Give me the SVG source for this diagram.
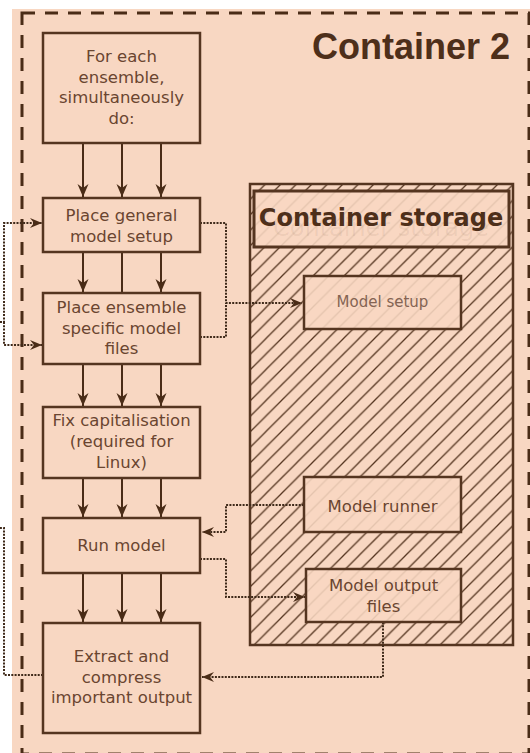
<svg xmlns="http://www.w3.org/2000/svg" width="530" height="753" viewBox="0 0 530 753">
<defs>
<style>
.box{fill:#f8d7c2;stroke:#553520;stroke-width:2.5}
.sbox{fill:#f8d7c2;fill-opacity:0.88;stroke:#553520;stroke-width:2.5}
.t{font-family:"DejaVu Sans",Verdana,sans-serif;font-size:16.5px;fill:#6a4530;text-anchor:middle}
.ts{font-family:"DejaVu Sans",Verdana,sans-serif;font-size:15px;fill:#846453;text-anchor:middle}
.flow{stroke:#4a2c17;stroke-width:2;fill:none}
.dot{stroke:#3f2a1a;stroke-width:2;fill:none;stroke-dasharray:2 1.3}
</style>
<marker id="ah" markerUnits="userSpaceOnUse" markerWidth="14" markerHeight="12" refX="13" refY="5.5" orient="auto">
<path d="M0,0 L13,5.5 L0,11 L4,5.5 z" fill="#4a2c17"/>
</marker>
<marker id="ahd" markerUnits="userSpaceOnUse" markerWidth="14" markerHeight="12" refX="12" refY="5" orient="auto">
<path d="M0,0 L12,5 L0,10 L4,5 z" fill="#4a2c17"/>
</marker>
<pattern id="hatch" patternUnits="userSpaceOnUse" x="250" y="184" width="15.5" height="15.5">
<path d="M0,15.5 L15.5,0 M-2,2 L2,-2 M13.5,17.5 L17.5,13.5" stroke="#553520" stroke-width="1.3" fill="none"/>
</pattern>
</defs>

<g id="container2">
<rect x="12" y="9" width="530" height="760" fill="#f8d7c2"/>
<rect x="22" y="13" width="507" height="741" fill="none" stroke="#4a2c17" stroke-width="3" stroke-dasharray="13 10"/>
<text x="510" y="59" font-family="'Liberation Sans',Arial,sans-serif" font-size="36" font-weight="bold" fill="#4e2f1a" text-anchor="end">Container 2</text>
</g>

<g id="storage">
<rect x="250" y="184" width="263" height="461" fill="url(#hatch)" stroke="#553520" stroke-width="2.5"/>
<rect x="254" y="191" width="255" height="56" fill="#f8d7c2" fill-opacity="0.88" stroke="#553520" stroke-width="3"/>
<text x="381" y="236" font-family="'DejaVu Sans',Verdana,sans-serif" font-size="24" fill="#553520" fill-opacity="0.07" text-anchor="middle">Container storage</text>
<text x="381" y="226" font-family="'DejaVu Sans',Verdana,sans-serif" font-size="24" font-weight="bold" fill="#4e2f1a" text-anchor="middle">Container storage</text>
</g>

<g id="connectors">
<line class="flow" x1="83" y1="143" x2="83" y2="197" marker-end="url(#ah)"/>
<line class="flow" x1="122" y1="143" x2="122" y2="197" marker-end="url(#ah)"/>
<line class="flow" x1="161" y1="143" x2="161" y2="197" marker-end="url(#ah)"/>
<line class="flow" x1="83" y1="252" x2="83" y2="292" marker-end="url(#ah)"/>
<line class="flow" x1="122" y1="252" x2="122" y2="293"/>
<line class="flow" x1="161" y1="252" x2="161" y2="292" marker-end="url(#ah)"/>
<line class="flow" x1="83" y1="364" x2="83" y2="406" marker-end="url(#ah)"/>
<line class="flow" x1="122" y1="364" x2="122" y2="406" marker-end="url(#ah)"/>
<line class="flow" x1="161" y1="364" x2="161" y2="406" marker-end="url(#ah)"/>
<line class="flow" x1="83" y1="478" x2="83" y2="517" marker-end="url(#ah)"/>
<line class="flow" x1="122" y1="478" x2="122" y2="517" marker-end="url(#ah)"/>
<line class="flow" x1="161" y1="478" x2="161" y2="517" marker-end="url(#ah)"/>
<line class="flow" x1="83" y1="573" x2="83" y2="622" marker-end="url(#ah)"/>
<line class="flow" x1="122" y1="573" x2="122" y2="622" marker-end="url(#ah)"/>
<line class="flow" x1="161" y1="573" x2="161" y2="622" marker-end="url(#ah)"/>

<path class="dot" d="M0,322 H4 V223 H42" marker-end="url(#ahd)"/>
<path class="dot" d="M4,322 V345 H42" marker-end="url(#ahd)"/>
<path class="dot" d="M43,675 H4 V528 H0"/>

<path class="dot" d="M200,223 H226 V303 H302" marker-end="url(#ahd)"/>
<path class="dot" d="M200,337 H226 V303"/>
<path class="dot" d="M304,505 H226 V532 H202" marker-end="url(#ahd)"/>
<path class="dot" d="M200,559 H226 V597 H305" marker-end="url(#ahd)"/>
<path class="dot" d="M383,622 V677 H202" marker-end="url(#ahd)"/>
</g>

<g id="n1">
<rect class="box" x="43" y="33" width="157" height="110"/>
<text class="t" x="121.5" y="62">For each</text>
<text class="t" x="121.5" y="82.5">ensemble,</text>
<text class="t" x="121.5" y="103">simultaneously</text>
<text class="t" x="121.5" y="124">do:</text>
</g>
<g id="n2">
<rect class="box" x="43" y="198" width="157" height="54"/>
<text class="t" x="121.5" y="221">Place general</text>
<text class="t" x="121.5" y="241.5">model setup</text>
</g>
<g id="n3">
<rect class="box" x="43" y="293" width="157" height="71"/>
<text class="t" x="121.5" y="313">Place ensemble</text>
<text class="t" x="121.5" y="334">specific model</text>
<text class="t" x="121.5" y="354">files</text>
</g>
<g id="n4">
<rect class="box" x="43" y="407" width="157" height="71"/>
<text class="t" x="121.5" y="426">Fix capitalisation</text>
<text class="t" x="121.5" y="447">(required for</text>
<text class="t" x="121.5" y="468">Linux)</text>
</g>
<g id="n5">
<rect class="box" x="43" y="518" width="157" height="55"/>
<text class="t" x="121.5" y="551">Run model</text>
</g>
<g id="n6">
<rect class="box" x="43" y="623" width="157" height="110"/>
<text class="t" x="121.5" y="662">Extract and</text>
<text class="t" x="121.5" y="682.5">compress</text>
<text class="t" x="121.5" y="703">important output</text>
</g>
<g id="s1">
<rect class="sbox" x="304" y="276" width="157" height="53"/>
<text class="ts" x="382.5" y="307">Model setup</text>
</g>
<g id="s2">
<rect class="sbox" x="304" y="477" width="157" height="55"/>
<text class="t" x="382.5" y="512">Model runner</text>
</g>
<g id="s3">
<rect class="sbox" x="306" y="569" width="155" height="53"/>
<text class="t" x="383.5" y="591">Model output</text>
<text class="t" x="383.5" y="612">files</text>
</g>
</svg>
